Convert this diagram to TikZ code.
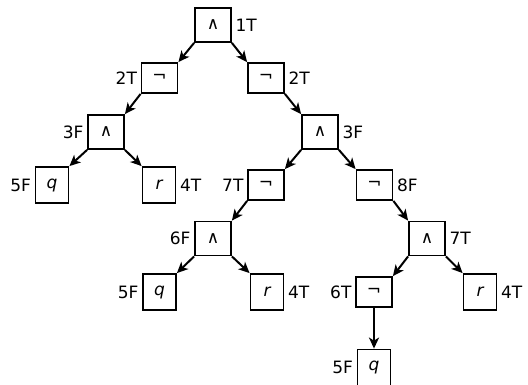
\documentclass[tikz,border=0pt]{standalone}
\usepackage{fontspec}
\setmainfont{DejaVu Sans}
\usetikzlibrary{arrows.meta}
\begin{document}
\begin{tikzpicture}[x=1pt,y=-1pt,
  every node/.style={font=\fontsize{17}{20}\selectfont},
  bx/.style={draw,line width=1.8pt,inner sep=0pt},
  andbox/.style={bx,minimum width=36pt,minimum height=34pt},
  notbox/.style={bx,minimum width=36pt,minimum height=30pt},
  varbox/.style={bx,minimum width=33pt,minimum height=36pt,font=\fontsize{17}{20}\selectfont\itshape},
  every label/.style={inner sep=1pt,font=\fontsize{17}{20}\selectfont},
  label distance=2.5pt,
  edge/.style={-{Stealth[length=11pt,width=10pt,inset=3pt]},line width=2pt}]
\useasboundingbox (0,0) rectangle (528,385);
\node[andbox,label=right:1T] (n1) at (213,25) {∧};
\node[notbox,label=left:2T] (n2) at (159.5,78) {¬};
\node[notbox,label=right:2T] (n3) at (266,78) {¬};
\node[andbox,label=left:3F] (n4) at (106,132) {∧};
\node[varbox,label=left:5F] (n5) at (52,185) {q};
\node[varbox,label=right:4T] (n6) at (159,185) {r};
\node[andbox,label=right:3F] (n7) at (320,132) {∧};
\node[notbox,label=left:7T] (n8) at (266,185) {¬};
\node[notbox,label=right:8F] (n9) at (374.5,185) {¬};
\node[andbox,label=left:6F] (n10) at (213,238.5) {∧};
\node[varbox,label=left:5F] (n11) at (159.5,292) {q};
\node[varbox,label=right:4T] (n12) at (267,292) {r};
\node[andbox,label=right:7T] (n13) at (427,238.5) {∧};
\node[notbox,label=left:6T] (n14) at (374,292) {¬};
\node[varbox,label=right:4T] (n15) at (480,292) {r};
\node[varbox,label=left:5F] (n16) at (374,367.5) {q};
\draw[edge] (n1.south west) -- (n2.north east);
\draw[edge] (n1.south east) -- (n3.north west);
\draw[edge] (n2.south west) -- (n4.north east);
\draw[edge] (n4.south west) -- (n5.north east);
\draw[edge] (n4.south east) -- (n6.north west);
\draw[edge] (n3.south east) -- (n7.north west);
\draw[edge] (n7.south west) -- (n8.north east);
\draw[edge] (n7.south east) -- (n9.north west);
\draw[edge] (n8.south west) -- (n10.north east);
\draw[edge] (n10.south west) -- (n11.north east);
\draw[edge] (n10.south east) -- (n12.north west);
\draw[edge] (n9.south east) -- (n13.north west);
\draw[edge] (n13.south west) -- (n14.north east);
\draw[edge] (n13.south east) -- (n15.north west);
\draw[edge] (n14.south) -- (n16.north);
\end{tikzpicture}
\end{document}
